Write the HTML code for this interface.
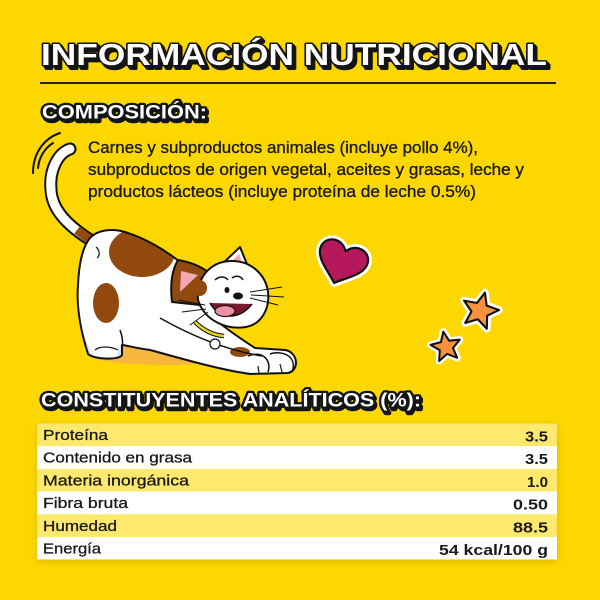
<!DOCTYPE html>
<html>
<head>
<meta charset="utf-8">
<style>
html,body{margin:0;padding:0;background:#FDD800;}
svg{display:block;}
.t{font-family:"Liberation Sans",Arial,sans-serif;}
</style>
</head>
<body>
<svg width="600" height="600" viewBox="0 0 600 600" xmlns="http://www.w3.org/2000/svg">
<defs>
<filter id="sh" x="-10%" y="-20%" width="120%" height="150%">
<feDropShadow dx="0" dy="2" stdDeviation="4" flood-color="#A07800" flood-opacity="0.35"/>
</filter>
<clipPath id="bodyclip">
<path d="M90 238 C97 230 112 228 125 232 C145 238 165 250 180 262 L195 300 C210 318 235 335 255 348 L285 350 C298 352 300 370 288 373 L250 374 C220 370 180 358 150 350 C135 348 125 345 122 345 L122 355 C120 360 95 360 88 354 C82 335 76 310 78 285 C79 260 84 245 90 238 Z"/>
</clipPath>
</defs>
<rect width="600" height="600" fill="#FDD800"/>

<!-- Title -->
<g class="t" font-weight="bold" font-size="31">
<text x="44" y="68.5" textLength="506" lengthAdjust="spacingAndGlyphs" fill="#151515" stroke="#151515" stroke-width="3" stroke-linejoin="round">INFORMACIÓN NUTRICIONAL</text>
<text x="43" y="67" textLength="506" lengthAdjust="spacingAndGlyphs" fill="#151515" stroke="#151515" stroke-width="3" stroke-linejoin="round">INFORMACIÓN NUTRICIONAL</text>
<text x="41" y="65" textLength="506" lengthAdjust="spacingAndGlyphs" fill="#ffffff" stroke="#151515" stroke-width="3" stroke-linejoin="round" paint-order="stroke">INFORMACIÓN NUTRICIONAL</text>
</g>
<line x1="40" y1="83" x2="556" y2="83" stroke="#222" stroke-width="2"/>

<!-- COMPOSICIÓN -->
<g class="t" font-weight="bold" font-size="19.5">
<text x="43.5" y="121" textLength="165" lengthAdjust="spacingAndGlyphs" fill="#151515" stroke="#151515" stroke-width="4.5" stroke-linejoin="round">COMPOSICIÓN:</text>
<text x="42" y="118.5" textLength="165" lengthAdjust="spacingAndGlyphs" fill="#ffffff" stroke="#151515" stroke-width="4.5" stroke-linejoin="round" paint-order="stroke">COMPOSICIÓN:</text>
</g>

<!-- Body text -->
<g class="t" font-size="17" fill="#1a1a1a" stroke="#1a1a1a" stroke-width="0.35">
<text x="88" y="153" textLength="390" lengthAdjust="spacingAndGlyphs">Carnes y subproductos animales (incluye pollo 4%),</text>
<text x="88" y="175" textLength="436" lengthAdjust="spacingAndGlyphs">subproductos de origen vegetal, aceites y grasas, leche y</text>
<text x="88" y="197" textLength="388" lengthAdjust="spacingAndGlyphs">productos lácteos (incluye proteína de leche 0.5%)</text>
</g>

<!-- motion lines -->
<path d="M60 133 C45 138 33 152 33 173" fill="none" stroke="#111" stroke-width="2" stroke-linecap="round"/>
<path d="M53 143 C45 148 39 157 38 168" fill="none" stroke="#111" stroke-width="2" stroke-linecap="round"/>

<!-- cat shadow -->
<ellipse cx="165" cy="354" rx="78" ry="11" fill="#F7B73E"/>

<!-- tail -->
<path d="M70 149 C58 153 49 170 51 190 C52 210 68 226 92 241" fill="none" stroke="#111" stroke-width="13" stroke-linecap="round"/>
<path d="M70 149 C58 153 49 170 51 190 C52 210 68 226 92 241" fill="none" stroke="#fff" stroke-width="9" stroke-linecap="round"/>
<path d="M77 230 C82 234 86 237 92 241" fill="none" stroke="#92490E" stroke-width="9"/>

<!-- body -->
<path d="M90 238 C97 230 112 228 125 232 C145 238 165 250 180 262 L195 300 C210 318 235 335 255 348 L285 350 C298 352 300 370 288 373 L250 374 C220 370 180 358 150 350 C135 348 125 345 122 345 L122 355 C120 360 95 360 88 354 C82 335 76 310 78 285 C79 260 84 245 90 238 Z" fill="#fff"/>
<g clip-path="url(#bodyclip)">
<ellipse cx="142" cy="252" rx="33" ry="25" fill="#92490E"/>
<ellipse cx="106" cy="303" rx="13" ry="20" fill="#92490E"/>
<ellipse cx="240" cy="352" rx="10" ry="5" fill="#92490E"/>
<path d="M120 345 C150 352 200 365 250 372 L250 380 L110 380 Z" fill="#D5E6F4"/>
<path d="M80 320 C85 340 90 352 95 358 L78 360 Z" fill="#D5E6F4"/>
</g>
<path d="M90 238 C97 230 112 228 125 232 C145 238 165 250 180 262 L195 300 C210 318 235 335 255 348 L285 350 C298 352 300 370 288 373 L250 374 C220 370 180 358 150 350 C135 348 125 345 122 345 L122 355 C120 360 95 360 88 354 C82 335 76 310 78 285 C79 260 84 245 90 238 Z" fill="none" stroke="#111" stroke-width="2" stroke-linejoin="round"/>
<!-- leg lines -->
<path d="M160 318 C190 335 225 350 262 356" fill="none" stroke="#111" stroke-width="1.5"/>
<path d="M120 330 C123 338 123 344 122 348" fill="none" stroke="#111" stroke-width="1.5"/>
<path d="M96 247 C100 250 100 256 97 258" fill="none" stroke="#111" stroke-width="1.2"/>
<!-- paws -->
<path d="M248 356 C262 350 272 360 268 372" fill="none" stroke="#111" stroke-width="1.5"/>
<path d="M270 354 C282 350 298 356 292 372" fill="none" stroke="#111" stroke-width="1.5"/>
<path d="M280 364 L282 372 M258 366 L259 373" stroke="#111" stroke-width="1.2"/>
<path d="M95 350 C100 346 110 346 118 350" fill="none" stroke="#111" stroke-width="1.2"/>

<!-- left ear / brown side -->
<path d="M172 302 C170 285 172 270 178 260 C190 262 200 266 208 272 L200 305 Z" fill="#92490E" stroke="#111" stroke-width="2" stroke-linejoin="round"/>
<path d="M180 292 L181 271 L198 275 Z" fill="#F2A9B4"/>
<!-- right ear -->
<path d="M220 266 L240 247 L251 274 Z" fill="#fff" stroke="#111" stroke-width="2" stroke-linejoin="round"/>
<path d="M228 265 L239 254 L245 270 Z" fill="#F2A9B4"/>
<!-- head -->
<path d="M198 300 C196 278 210 262 230 261 C252 260 266 276 268 292 C270 308 262 324 246 327 C228 330 205 322 198 300 Z" fill="#fff" stroke="#111" stroke-width="2"/>
<ellipse cx="200" cy="288" rx="7" ry="8" fill="#92490E"/>
<!-- face -->
<path d="M215 280 C219 276 225 276 228 280" fill="none" stroke="#111" stroke-width="1.5"/>
<path d="M232 278 C236 275 241 276 243 280" fill="none" stroke="#111" stroke-width="1.5"/>
<ellipse cx="227" cy="290" rx="2.5" ry="3" fill="#111"/>
<ellipse cx="238" cy="296" rx="5" ry="3.5" fill="#111"/>
<path d="M210 303 C218 318 238 322 252 304" fill="#7a1a2a" stroke="#111" stroke-width="1.5"/>
<ellipse cx="225" cy="311" rx="10" ry="5.5" fill="#EE8FA8" stroke="#111" stroke-width="1.2"/>
<path d="M250 292 L282 287 M251 295 L284 297 M250 298 L278 305" stroke="#111" stroke-width="1"/>
<path d="M205 305 L178 300 M206 309 L182 312 M208 312 L190 325" stroke="#111" stroke-width="1"/>
<!-- collar -->
<path d="M195 322 C203 330 212 335 224 336" fill="none" stroke="#111" stroke-width="4.5"/>
<path d="M195 322 C203 330 212 335 224 336" fill="none" stroke="#E9D416" stroke-width="2.5"/>
<circle cx="215" cy="344" r="5" fill="#fff" stroke="#111" stroke-width="1.2"/>

<!-- heart -->
<g transform="translate(341,264) rotate(20) scale(1.12)">
<path d="M0 18 C-8 10 -24 2 -22 -10 C-20 -20 -6 -22 0 -12 C6 -22 20 -20 22 -10 C24 2 8 10 0 18 Z" fill="#fff" stroke="#fff" stroke-width="7" stroke-linejoin="round"/>
<path d="M0 18 C-8 10 -24 2 -22 -10 C-20 -20 -6 -22 0 -12 C6 -22 20 -20 22 -10 C24 2 8 10 0 18 Z" fill="#B5195B" stroke="#111" stroke-width="2" stroke-linejoin="round"/>
</g>
<!-- stars -->
<g transform="translate(480,311) rotate(15) scale(0.95)">
<path d="M0 -20 L5.29 -7.28 L19.02 -6.18 L8.56 2.78 L11.76 16.18 L0 9 L-11.76 16.18 L-8.56 2.78 L-19.02 -6.18 L-5.29 -7.28 Z" fill="#fff" stroke="#fff" stroke-width="8" stroke-linejoin="round"/>
<path d="M0 -20 L5.29 -7.28 L19.02 -6.18 L8.56 2.78 L11.76 16.18 L0 9 L-11.76 16.18 L-8.56 2.78 L-19.02 -6.18 L-5.29 -7.28 Z" fill="#F7913D" stroke="#111" stroke-width="2.2" stroke-linejoin="round"/>
</g>
<g transform="translate(446,347) rotate(-10) scale(0.78)">
<path d="M0 -20 L5.29 -7.28 L19.02 -6.18 L8.56 2.78 L11.76 16.18 L0 9 L-11.76 16.18 L-8.56 2.78 L-19.02 -6.18 L-5.29 -7.28 Z" fill="#fff" stroke="#fff" stroke-width="9" stroke-linejoin="round"/>
<path d="M0 -20 L5.29 -7.28 L19.02 -6.18 L8.56 2.78 L11.76 16.18 L0 9 L-11.76 16.18 L-8.56 2.78 L-19.02 -6.18 L-5.29 -7.28 Z" fill="#F7913D" stroke="#111" stroke-width="2.6" stroke-linejoin="round"/>
</g>

<!-- CONSTITUYENTES -->
<g class="t" font-weight="bold" font-size="19.5">
<text x="42.5" y="409" textLength="380" lengthAdjust="spacingAndGlyphs" fill="#151515" stroke="#151515" stroke-width="4.5" stroke-linejoin="round">CONSTITUYENTES ANALÍTICOS (%):</text>
<text x="41" y="406.5" textLength="380" lengthAdjust="spacingAndGlyphs" fill="#ffffff" stroke="#151515" stroke-width="4.5" stroke-linejoin="round" paint-order="stroke">CONSTITUYENTES ANALÍTICOS (%):</text>
</g>

<!-- Table -->
<g filter="url(#sh)">
<rect x="37" y="423.5" width="520" height="136" fill="#fff"/>
</g>
<rect x="37" y="423.5" width="520" height="22.7" fill="#FEE86E"/>
<rect x="37" y="446.2" width="520" height="22.7" fill="#FFFFFF"/>
<rect x="37" y="468.9" width="520" height="22.7" fill="#FEE86E"/>
<rect x="37" y="491.6" width="520" height="22.7" fill="#FFFFFF"/>
<rect x="37" y="514.3" width="520" height="22.7" fill="#FEE86E"/>
<rect x="37" y="537" width="520" height="22.5" fill="#FFFFFF"/>

<g class="t" font-size="15" fill="#1a1a1a" stroke="#1a1a1a" stroke-width="0.3">
<text x="43" y="440" textLength="65" lengthAdjust="spacingAndGlyphs">Proteína</text>
<text x="43" y="462.7" textLength="149" lengthAdjust="spacingAndGlyphs">Contenido en grasa</text>
<text x="43" y="485.4" textLength="146" lengthAdjust="spacingAndGlyphs">Materia inorgánica</text>
<text x="43" y="508.1" textLength="85" lengthAdjust="spacingAndGlyphs">Fibra bruta</text>
<text x="43" y="530.8" textLength="74" lengthAdjust="spacingAndGlyphs">Humedad</text>
<text x="43" y="553.5" textLength="58" lengthAdjust="spacingAndGlyphs">Energía</text>
</g>
<g class="t" font-size="15" font-weight="bold" fill="#1a1a1a">
<text x="525" y="441.5" textLength="23" lengthAdjust="spacingAndGlyphs">3.5</text>
<text x="525" y="464.2" textLength="23" lengthAdjust="spacingAndGlyphs">3.5</text>
<text x="527" y="486.9" textLength="21" lengthAdjust="spacingAndGlyphs">1.0</text>
<text x="513" y="509.6" textLength="35" lengthAdjust="spacingAndGlyphs">0.50</text>
<text x="513" y="532.3" textLength="35" lengthAdjust="spacingAndGlyphs">88.5</text>
<text x="439" y="555" textLength="109" lengthAdjust="spacingAndGlyphs">54 kcal/100 g</text>
</g>
</svg>
</body>
</html>
